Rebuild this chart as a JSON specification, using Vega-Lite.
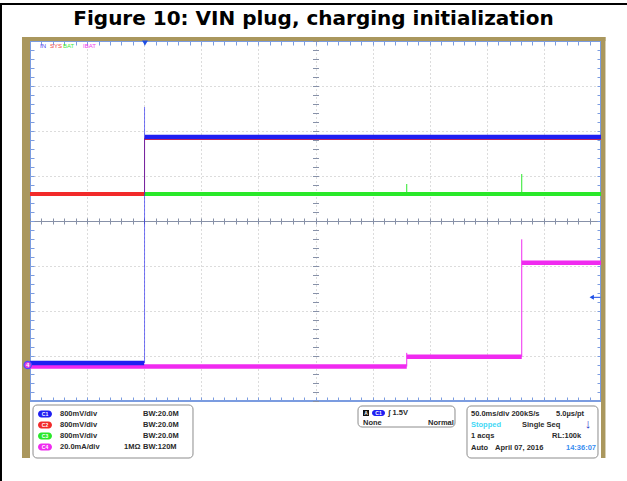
{
  "$schema": "https://vega.github.io/schema/vega-lite/v6.json",
  "width": 571,
  "height": 360,
  "autosize": {"type": "none"},
  "padding": {"left": 30, "top": 41, "right": 26, "bottom": 80},
  "background": "white",
  "config": {"font": "Liberation Sans", "view": {"stroke": "#7b9ce0", "strokeWidth": 2}},
  "resolve": {"axis": {"x": "independent", "y": "independent"}},
  "datasets": {
    "titleText": [{"label": "Figure 10: VIN plug, charging initialization", "t": 148.25, "v": 4.5}],
    "bezel": [
      {"t": -107.01, "t2": -100, "v": 4.089, "v2": -5.267},
      {"t": -107.01, "t2": 403.9, "v": 4.089, "v2": 4.0},
      {"t": 400, "t2": 403.9, "v": 4.089, "v2": -5.267}
    ],
    "page": [
      {"t": -126.3, "t2": 422.8, "v": 4.822, "v2": 4.822},
      {"t": -125.4, "t2": -125.4, "v": 4.822, "v2": -5.8}
    ],
    "boxes": [
      {"t": -97.37, "t2": 42.73, "v": -4.089, "v2": -5.267},
      {"t": 187.22, "t2": 272.15, "v": -4.111, "v2": -4.578},
      {"t": 282.66, "t2": 397.37, "v": -4.111, "v2": -5.267}
    ],
    "green": [
      {"ch": "C3", "seg": "a", "t": -100, "v": 0.6},
      {"ch": "C3", "seg": "a", "t": 400, "v": 0.6}
    ],
    "greenSpikes": [
      {"ch": "C3", "t": 229.9, "v": 0.6, "v2": 0.822},
      {"ch": "C3", "t": 330.6, "v": 0.6, "v2": 1.044}
    ],
    "red": [
      {"ch": "C2", "seg": "a", "t": -100, "v": 0.6},
      {"ch": "C2", "seg": "a", "t": 0, "v": 0.6},
      {"ch": "C2", "seg": "b", "t": 0.5, "v": 1.844},
      {"ch": "C2", "seg": "b", "t": 400, "v": 1.844}
    ],
    "redStep": [{"ch": "C2", "t": 0.3, "v": 0.6, "v2": 1.844}],
    "magenta": [
      {"ch": "C4", "seg": "a", "t": -100, "v": -3.233},
      {"ch": "C4", "seg": "a", "t": 229.9, "v": -3.233},
      {"ch": "C4", "seg": "b", "t": 229.9, "v": -3.016},
      {"ch": "C4", "seg": "b", "t": 330.6, "v": -3.016},
      {"ch": "C4", "seg": "c", "t": 330.6, "v": -0.927},
      {"ch": "C4", "seg": "c", "t": 400, "v": -0.927}
    ],
    "magentaSteps": [
      {"ch": "C4", "t": 229.9, "v": -3.233, "v2": -2.93},
      {"ch": "C4", "t": 330.6, "v": -3.016, "v2": -0.407}
    ],
    "blue": [
      {"ch": "C1", "seg": "a", "t": -100, "v": -3.156},
      {"ch": "C1", "seg": "a", "t": 0, "v": -3.156},
      {"ch": "C1", "seg": "b", "t": 0.5, "v": 1.867},
      {"ch": "C1", "seg": "b", "t": 400, "v": 1.867}
    ],
    "blueStep": [{"ch": "C1", "t": 0.3, "v": -3.156, "v2": 2.533}],
    "pills": [
      {"ch": "C1", "t": -93.0, "t2": -80.74, "v": -4.211, "v2": -4.367},
      {"ch": "C2", "t": -93.0, "t2": -80.74, "v": -4.456, "v2": -4.611},
      {"ch": "C3", "t": -93.0, "t2": -80.74, "v": -4.7, "v2": -4.856},
      {"ch": "C4", "t": -93.0, "t2": -80.74, "v": -4.944, "v2": -5.1},
      {"ch": "C1", "t": 199.47, "t2": 210.86, "v": -4.2, "v2": -4.333}
    ],
    "pillText": [
      {"label": "C1", "t": -86.87, "v": -4.289},
      {"label": "C2", "t": -86.87, "v": -4.533},
      {"label": "C3", "t": -86.87, "v": -4.778},
      {"label": "C4", "t": -86.87, "v": -5.022},
      {"label": "C1", "t": 205.2, "v": -4.267},
      {"label": "A", "t": 194.2, "v": -4.267}
    ],
    "blackSquare": [{"t": 191.6, "t2": 196.85, "v": -4.2, "v2": -4.333}],
    "info": [
      {"label": "800mV/div", "t": -73.73, "v": -4.289},
      {"label": "800mV/div", "t": -73.73, "v": -4.533},
      {"label": "800mV/div", "t": -73.73, "v": -4.778},
      {"label": "20.0mA/div", "t": -73.73, "v": -5.022},
      {"label": "BW:20.0M", "t": -1.05, "v": -4.289},
      {"label": "BW:20.0M", "t": -1.05, "v": -4.533},
      {"label": "BW:20.0M", "t": -1.05, "v": -4.778},
      {"label": "BW:120M", "t": -1.05, "v": -5.022},
      {"label": "1MΩ", "t": -17.69, "v": -5.022},
      {"label": "ʃ 1.5V", "t": 213.49, "v": -4.267},
      {"label": "None", "t": 191.59, "v": -4.489},
      {"label": "Normal", "t": 248.51, "v": -4.489},
      {"label": "50.0ms/div 200kS/s", "t": 286.17, "v": -4.289},
      {"label": "5.0µs/pt", "t": 360.6, "v": -4.289},
      {"label": "Single Seq", "t": 330.82, "v": -4.533},
      {"label": "1 acqs", "t": 286.17, "v": -4.778},
      {"label": "RL:100k", "t": 357.09, "v": -4.778},
      {"label": "Auto", "t": 286.17, "v": -5.044},
      {"label": "April 07, 2016", "t": 307.18, "v": -5.044}
    ],
    "stopped": [{"label": "Stopped", "t": 286.17, "v": -4.533}],
    "clock": [{"label": "14:36:07", "t": 369.35, "v": -5.044}],
    "arrowDown": [{"label": "↓", "t": 388.62, "v": -4.52}],
    "chanLabels": [
      {"ch": "C1", "label": "IN", "t": -91.24, "v": 3.878},
      {"ch": "C2", "label": "SYS", "t": -82.49, "v": 3.878},
      {"ch": "C3", "label": "BAT", "t": -71.1, "v": 3.878},
      {"ch": "C4", "label": "IBAT", "t": -53.59, "v": 3.878}
    ],
    "trigTop": [{"t": 0.7, "v": 3.956}],
    "trigLevel": [{"t": 391.86, "v": -1.696}],
    "trigLevelLine": [{"t": 392.1, "t2": 399.5, "v": -1.696}],
    "c4Marker": [{"label": "4", "t": -102.0, "v": -3.2}]
  },
  "encoding": {
    "x": {"field": "t", "type": "quantitative", "scale": {"domain": [-100, 400], "nice": false, "zero": false}, "axis": null},
    "y": {"field": "v", "type": "quantitative", "scale": {"domain": [-4, 4], "nice": false, "zero": false}, "axis": null}
  },
  "layer": [
    {
      "data": {"name": "bezel"},
      "mark": {"type": "rect", "color": "#aa975d"},
      "encoding": {
        "x": {"field": "t", "type": "quantitative", "scale": {"domain": [-100, 400], "nice": false, "zero": false},
              "axis": {"orient": "bottom", "offset": -4, "values": [-100,-90,-80,-70,-60,-50,-40,-30,-20,-10,0,10,20,30,40,50,60,70,80,90,100,110,120,130,140,150,160,170,180,190,200,210,220,230,240,250,260,270,280,290,300,310,320,330,340,350,360,370,380,390,400], "tickSize": 4, "tickColor": "#7b9ce0", "labels": false, "domain": false, "grid": false, "title": null}},
        "x2": {"field": "t2"},
        "y": {"field": "v", "type": "quantitative", "scale": {"domain": [-4, 4], "nice": false, "zero": false},
              "axis": {"orient": "left", "offset": -4, "values": [-4,-3.8,-3.6,-3.4,-3.2,-3,-2.8,-2.6,-2.4,-2.2,-2,-1.8,-1.6,-1.4,-1.2,-1,-0.8,-0.6,-0.4,-0.2,0,0.2,0.4,0.6,0.8,1,1.2,1.4,1.6,1.8,2,2.2,2.4,2.6,2.8,3,3.2,3.4,3.6,3.8,4], "tickSize": 4, "tickColor": "#7b9ce0", "labels": false, "domain": false, "grid": false, "title": null}},
        "y2": {"field": "v2"}
      }
    },
    {
      "data": {"name": "page"},
      "mark": {"type": "rule", "color": "#000000", "strokeWidth": 2},
      "encoding": {"x2": {"field": "t2"}, "y2": {"field": "v2"}}
    },
    {
      "data": {"name": "titleText"},
      "mark": {"type": "text", "color": "#000000", "font": "DejaVu Sans", "fontSize": 20, "fontWeight": "bold", "align": "center", "baseline": "middle"},
      "encoding": {"text": {"field": "label"}}
    },
    {
      "data": {"name": "boxes"},
      "mark": {"type": "rect", "fill": "#ffffff", "stroke": "#8c8c8c", "strokeWidth": 1, "cornerRadius": 4},
      "encoding": {"x2": {"field": "t2"}, "y2": {"field": "v2"}}
    },
    {
      "data": {"name": "green"},
      "mark": {"type": "line", "strokeWidth": 4, "strokeCap": "butt"},
      "encoding": {
        "x": {"field": "t", "type": "quantitative", "scale": {"domain": [-100, 400], "nice": false, "zero": false},
              "axis": {"orient": "top", "offset": -4, "values": [-100,-90,-80,-70,-60,-50,-40,-30,-20,-10,0,10,20,30,40,50,60,70,80,90,100,110,120,130,140,150,160,170,180,190,200,210,220,230,240,250,260,270,280,290,300,310,320,330,340,350,360,370,380,390,400], "tickSize": 4, "tickColor": "#7b9ce0", "labels": false, "domain": false, "grid": false, "title": null}},
        "y": {"field": "v", "type": "quantitative", "scale": {"domain": [-4, 4], "nice": false, "zero": false},
              "axis": {"orient": "right", "offset": -4, "values": [-4,-3.8,-3.6,-3.4,-3.2,-3,-2.8,-2.6,-2.4,-2.2,-2,-1.8,-1.6,-1.4,-1.2,-1,-0.8,-0.6,-0.4,-0.2,0,0.2,0.4,0.6,0.8,1,1.2,1.4,1.6,1.8,2,2.2,2.4,2.6,2.8,3,3.2,3.4,3.6,3.8,4], "tickSize": 4, "tickColor": "#7b9ce0", "labels": false, "domain": false, "grid": false, "title": null}},
        "color": {"field": "ch", "type": "nominal", "scale": {"domain": ["C1", "C2", "C3", "C4"], "range": ["#1f1ff2", "#f22a2a", "#2ae82a", "#f02af0"]}, "legend": null},
        "detail": {"field": "seg"}
      }
    },
    {
      "data": {"name": "greenSpikes"},
      "mark": {"type": "rule", "strokeWidth": 1},
      "encoding": {"y2": {"field": "v2"}, "color": {"field": "ch", "type": "nominal", "legend": null}}
    },
    {
      "data": {"name": "red"},
      "mark": {"type": "line", "strokeWidth": 4, "strokeCap": "butt"},
      "encoding": {
        "x": {"field": "t", "type": "quantitative", "scale": {"domain": [-100, 400], "nice": false, "zero": false},
              "axis": {"orient": "bottom", "values": [-50, 0, 50, 100, 150, 200, 250, 300, 350], "grid": true, "gridColor": "#b8b8b8", "gridDash": [1, 3], "gridWidth": 1, "ticks": false, "labels": false, "domain": false, "title": null}},
        "y": {"field": "v", "type": "quantitative", "scale": {"domain": [-4, 4], "nice": false, "zero": false},
              "axis": {"orient": "left", "values": [-3, -2, -1, 1, 2, 3], "grid": true, "gridColor": "#b8b8b8", "gridDash": [1, 3], "gridWidth": 1, "ticks": false, "labels": false, "domain": false, "title": null}},
        "color": {"field": "ch", "type": "nominal", "legend": null},
        "detail": {"field": "seg"}
      }
    },
    {
      "data": {"name": "redStep"},
      "mark": {"type": "rule", "strokeWidth": 1},
      "encoding": {"y2": {"field": "v2"}, "color": {"field": "ch", "type": "nominal", "legend": null}}
    },
    {
      "data": {"name": "magenta"},
      "mark": {"type": "line", "strokeWidth": 4.5, "strokeCap": "butt"},
      "encoding": {
        "x": {"field": "t", "type": "quantitative", "scale": {"domain": [-100, 400], "nice": false, "zero": false},
              "axis": {"orient": "top", "offset": -180, "values": [-100,-90,-80,-70,-60,-50,-40,-30,-20,-10,0,10,20,30,40,50,60,70,80,90,100,110,120,130,140,150,160,170,180,190,200,210,220,230,240,250,260,270,280,290,300,310,320,330,340,350,360,370,380,390,400], "tickSize": 3, "tickColor": "#8791a8", "labels": false, "domain": false, "grid": false, "title": null}},
        "y": {"field": "v", "type": "quantitative", "scale": {"domain": [-4, 4], "nice": false, "zero": false},
              "axis": {"orient": "right", "offset": -285.5, "values": [-4,-3.8,-3.6,-3.4,-3.2,-3,-2.8,-2.6,-2.4,-2.2,-2,-1.8,-1.6,-1.4,-1.2,-1,-0.8,-0.6,-0.4,-0.2,0,0.2,0.4,0.6,0.8,1,1.2,1.4,1.6,1.8,2,2.2,2.4,2.6,2.8,3,3.2,3.4,3.6,3.8,4], "tickSize": 3, "tickColor": "#8791a8", "labels": false, "domain": false, "grid": false, "title": null}},
        "color": {"field": "ch", "type": "nominal", "legend": null},
        "detail": {"field": "seg"}
      }
    },
    {
      "data": {"name": "magentaSteps"},
      "mark": {"type": "rule", "strokeWidth": 1},
      "encoding": {"y2": {"field": "v2"}, "color": {"field": "ch", "type": "nominal", "legend": null}}
    },
    {
      "data": {"name": "blue"},
      "mark": {"type": "line", "strokeWidth": 4.5, "strokeCap": "butt"},
      "encoding": {
        "x": {"field": "t", "type": "quantitative", "scale": {"domain": [-100, 400], "nice": false, "zero": false},
              "axis": {"orient": "bottom", "offset": -180, "values": [-100,-90,-80,-70,-60,-50,-40,-30,-20,-10,0,10,20,30,40,50,60,70,80,90,100,110,120,130,140,150,160,170,180,190,200,210,220,230,240,250,260,270,280,290,300,310,320,330,340,350,360,370,380,390,400], "tickSize": 3, "tickColor": "#8791a8", "labels": false, "domain": true, "domainColor": "#8791a8", "domainWidth": 1, "grid": false, "title": null}},
        "y": {"field": "v", "type": "quantitative", "scale": {"domain": [-4, 4], "nice": false, "zero": false},
              "axis": {"orient": "left", "offset": -285.5, "values": [-4,-3.8,-3.6,-3.4,-3.2,-3,-2.8,-2.6,-2.4,-2.2,-2,-1.8,-1.6,-1.4,-1.2,-1,-0.8,-0.6,-0.4,-0.2,0,0.2,0.4,0.6,0.8,1,1.2,1.4,1.6,1.8,2,2.2,2.4,2.6,2.8,3,3.2,3.4,3.6,3.8,4], "tickSize": 3, "tickColor": "#8791a8", "labels": false, "domain": false, "grid": false, "title": null}},
        "color": {"field": "ch", "type": "nominal", "legend": null},
        "detail": {"field": "seg"}
      }
    },
    {
      "data": {"name": "blueStep"},
      "mark": {"type": "rule", "strokeWidth": 1, "opacity": 0.6},
      "encoding": {"y2": {"field": "v2"}, "color": {"field": "ch", "type": "nominal", "legend": null}}
    },
    {
      "data": {"name": "blackSquare"},
      "mark": {"type": "rect", "color": "#111111"},
      "encoding": {"x2": {"field": "t2"}, "y2": {"field": "v2"}}
    },
    {
      "data": {"name": "pills"},
      "mark": {"type": "rect", "cornerRadius": 3.5},
      "encoding": {"x2": {"field": "t2"}, "y2": {"field": "v2"}, "color": {"field": "ch", "type": "nominal", "legend": null}}
    },
    {
      "data": {"name": "pillText"},
      "mark": {"type": "text", "color": "#ffffff", "fontSize": 5, "fontWeight": "bold", "align": "center", "baseline": "middle"},
      "encoding": {"text": {"field": "label"}}
    },
    {
      "data": {"name": "info"},
      "mark": {"type": "text", "color": "#2a2a2a", "fontSize": 7.5, "fontWeight": "bold", "align": "left", "baseline": "middle"},
      "encoding": {"text": {"field": "label"}}
    },
    {
      "data": {"name": "stopped"},
      "mark": {"type": "text", "color": "#3fd8f5", "fontSize": 7.5, "fontWeight": "bold", "align": "left", "baseline": "middle"},
      "encoding": {"text": {"field": "label"}}
    },
    {
      "data": {"name": "clock"},
      "mark": {"type": "text", "color": "#3a8ef0", "fontSize": 7.5, "fontWeight": "bold", "align": "left", "baseline": "middle"},
      "encoding": {"text": {"field": "label"}}
    },
    {
      "data": {"name": "arrowDown"},
      "mark": {"type": "text", "color": "#1f35c8", "fontSize": 13, "fontWeight": "bold", "align": "center", "baseline": "middle"},
      "encoding": {"text": {"field": "label"}}
    },
    {
      "data": {"name": "chanLabels"},
      "mark": {"type": "text", "fontSize": 6, "align": "left", "baseline": "middle", "opacity": 0.9},
      "encoding": {"text": {"field": "label"}, "color": {"field": "ch", "type": "nominal", "legend": null}}
    },
    {
      "data": {"name": "trigTop"},
      "mark": {"type": "point", "shape": "triangle-down", "filled": true, "size": 35, "color": "#1e4fe6", "opacity": 1},
      "encoding": {}
    },
    {
      "data": {"name": "trigLevelLine"},
      "mark": {"type": "rule", "color": "#1e4fe6", "strokeWidth": 1},
      "encoding": {"x2": {"field": "t2"}}
    },
    {
      "data": {"name": "trigLevel"},
      "mark": {"type": "point", "shape": "triangle-left", "filled": true, "size": 25, "color": "#1e4fe6", "opacity": 1},
      "encoding": {}
    },
    {
      "data": {"name": "c4Marker"},
      "mark": {"type": "point", "shape": "circle", "filled": true, "size": 55, "fill": "#e23ae2", "stroke": "#4a4aff", "strokeWidth": 1.2, "opacity": 1},
      "encoding": {}
    },
    {
      "data": {"name": "c4Marker"},
      "mark": {"type": "text", "color": "#ffffff", "fontSize": 6, "fontWeight": "bold", "align": "center", "baseline": "middle"},
      "encoding": {"text": {"field": "label"}}
    }
  ]
}
